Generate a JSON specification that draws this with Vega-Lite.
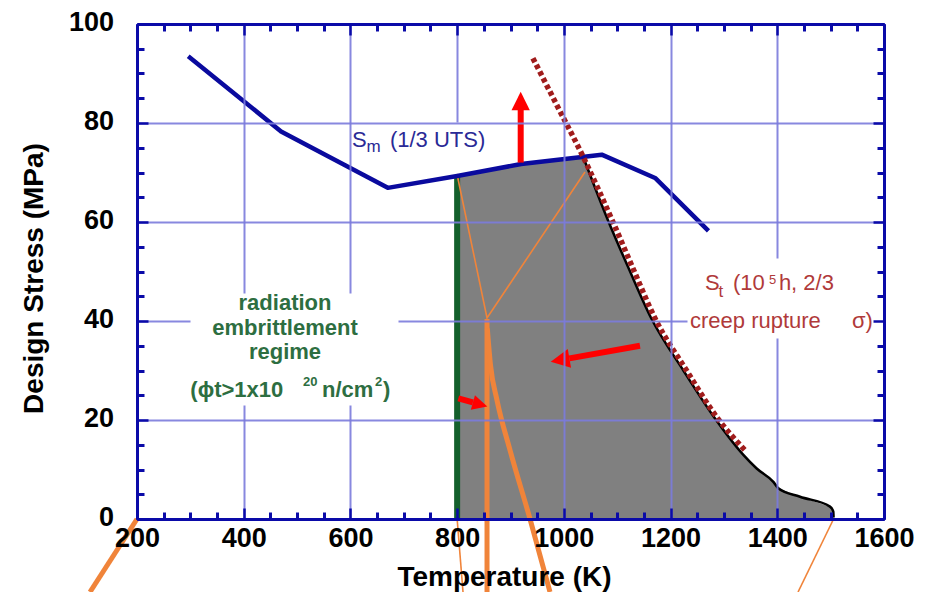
{
  "$schema": "https://vega.github.io/schema/vega-lite/v6.json",
  "width": 747,
  "height": 495,
  "autosize": {"type": "none"},
  "padding": {"left": 137, "top": 24, "right": 44, "bottom": 73},
  "background": "white",
  "config": {"view": {"stroke": null}, "font": "Liberation Sans"},
  "datasets": {
    "sm": [
      {"x": 296, "y": 93.5}, {"x": 470, "y": 78.3}, {"x": 670, "y": 66.9},
      {"x": 800, "y": 69.3}, {"x": 920, "y": 71.7}, {"x": 1071, "y": 73.6},
      {"x": 1171, "y": 68.9}, {"x": 1271, "y": 58.2}
    ],
    "region": [
      {"x": 800, "y": 69.3}, {"x": 920, "y": 71.7}, {"x": 1036.5, "y": 73.1},
      {"x": 1084, "y": 60}, {"x": 1122, "y": 50.5}, {"x": 1164, "y": 40.5},
      {"x": 1224, "y": 30}, {"x": 1282, "y": 20.5}, {"x": 1336, "y": 13.0},
      {"x": 1361.4, "y": 10.2}, {"x": 1392.6, "y": 7.5}, {"x": 1401.9, "y": 6.2},
      {"x": 1442.6, "y": 4.5}, {"x": 1498.8, "y": 2.5}, {"x": 1505, "y": 1.5},
      {"x": 1505.5, "y": 0}
    ],
    "creep": [
      {"x": 1036.5, "y": 73.1}, {"x": 1084, "y": 60}, {"x": 1122, "y": 50.5},
      {"x": 1164, "y": 40.5}, {"x": 1224, "y": 30}, {"x": 1282, "y": 20.5},
      {"x": 1336, "y": 13.0}, {"x": 1361.4, "y": 10.2}, {"x": 1392.6, "y": 7.5},
      {"x": 1401.9, "y": 6.2}, {"x": 1442.6, "y": 4.5}, {"x": 1498.8, "y": 2.5},
      {"x": 1505, "y": 1.5}, {"x": 1505.5, "y": 0.3}
    ],
    "st": [
      {"x": 942, "y": 93.1}, {"x": 985, "y": 84}, {"x": 1036, "y": 73.2},
      {"x": 1092, "y": 60}, {"x": 1130, "y": 50.5}, {"x": 1171, "y": 40.5},
      {"x": 1230, "y": 30}, {"x": 1287, "y": 20.5}, {"x": 1339.5, "y": 13.9}
    ],
    "green": [{"x": 800, "y": 0, "y2": 69.3}],
    "arrows": [
      {"id": "up", "x": 919.1, "y": 72.0, "x2": 919.1, "y2": 83.0},
      {"id": "left", "x": 1142.7, "y": 35.0, "x2": 1010.4, "y2": 32.44},
      {"id": "right", "x": 802.2, "y": 24.38, "x2": 829.5, "y2": 23.54}
    ],
    "heads": [
      {"id": "up", "x": 919.1, "y": 82.6},
      {"id": "left", "x": 1010.4, "y": 32.44},
      {"id": "right", "x": 829.5, "y": 23.54}
    ],
    "orange": [
      {"seg": "margin", "i": 0, "x": 200, "y": 0},
      {"seg": "margin", "i": 1, "x": 111.9, "y": -14.75},
      {"seg": "stem", "i": 0, "x": 856, "y": 40.4},
      {"seg": "stem", "i": 1, "x": 856, "y": -14.75},
      {"seg": "branch", "i": 0, "x": 856.5, "y": 38.5},
      {"seg": "branch", "i": 1, "x": 862.5, "y": 31.1},
      {"seg": "branch", "i": 2, "x": 874.7, "y": 24},
      {"seg": "branch", "i": 3, "x": 899.1, "y": 13.9},
      {"seg": "branch", "i": 4, "x": 936.6, "y": 0},
      {"seg": "branch", "i": 5, "x": 974, "y": -14.75},
      {"seg": "link", "i": 0, "x": 799.7, "y": 69.7},
      {"seg": "link", "i": 1, "x": 856, "y": 40.6},
      {"seg": "link", "i": 2, "x": 1039.6, "y": 70.1},
      {"seg": "foot", "i": 0, "x": 800, "y": 0},
      {"seg": "foot", "i": 1, "x": 811, "y": -14.75},
      {"seg": "tail", "i": 0, "x": 1505.5, "y": 0},
      {"seg": "tail", "i": 1, "x": 1438.9, "y": -14.75}
    ],
    "notes": [
      {"g": "sm", "t": "S", "x": 603, "y": 75.25},
      {"g": "sm_sub", "t": "m", "x": 630, "y": 74.1},
      {"g": "sm", "t": "(1/3 UTS)", "x": 674, "y": 75.25},
      {"g": "rad_c", "t": "radiation", "x": 477.4, "y": 42.22},
      {"g": "rad_c", "t": "embrittlement", "x": 477.4, "y": 37.17},
      {"g": "rad_c", "t": "regime", "x": 477.4, "y": 32.42},
      {"g": "rad", "t": "(ϕt>1x10", "x": 300, "y": 24.65},
      {"g": "rad_sup", "t": "20", "x": 511.1, "y": 26.87},
      {"g": "rad", "t": "n/cm", "x": 546.7, "y": 24.65},
      {"g": "rad_sup", "t": "2", "x": 646, "y": 26.87},
      {"g": "rad", "t": ")", "x": 661, "y": 24.65},
      {"g": "st", "t": "S", "x": 1264.5, "y": 46.26},
      {"g": "st_sub", "t": "t", "x": 1290, "y": 44.9},
      {"g": "st", "t": "(10", "x": 1317, "y": 46.26},
      {"g": "st_sup", "t": "5", "x": 1384.5, "y": 47.4},
      {"g": "st", "t": "h, 2/3", "x": 1403, "y": 46.26},
      {"g": "st", "t": "creep rupture", "x": 1236.4, "y": 38.53},
      {"g": "st", "t": "σ)", "x": 1540, "y": 38.53}
    ]
  },
  "layer": [
    {
      "encoding": {
        "x": {
          "field": "x", "type": "quantitative",
          "scale": {"domain": [200, 1600], "nice": false, "zero": false},
          "axis": {
            "orient": "bottom",
            "values": [200, 400, 600, 800, 1000, 1200, 1400, 1600],
            "format": "d",
            "labelFlush": false, "labelOverlap": false,
            "labelFont": "Liberation Sans", "labelFontWeight": "bold", "labelFontSize": 27,
            "labelColor": "#000000", "labelBaseline": "alphabetic", "labelPadding": 38.7,
            "tickSize": -11, "tickWidth": 2.5, "tickColor": "#0a0aa8",
            "domainColor": "#0a0aa8", "domainWidth": 3,
            "grid": true, "gridColor": "#7b7bdc", "gridWidth": 2,
            "gridOpacity": {"condition": {"test": "datum.value > 200 && datum.value < 1600", "value": 0.9}, "value": 0},
            "gridDash": {"condition": [
              {"test": "datum.value === 400 || datum.value === 600", "value": [269, 112, 300, 100]},
              {"test": "datum.value === 800", "value": [98, 600]},
              {"test": "datum.value === 1400", "value": [234, 80, 300, 100]}
            ], "value": []},
            "zindex": 1,
            "title": "Temperature (K)",
            "titleFont": "Liberation Sans", "titleFontSize": 28, "titleFontWeight": "bold", "titleColor": "#000000",
            "titleX": 367, "titleY": 66, "titleBaseline": "alphabetic", "titleAlign": "center"
          }
        },
        "y": {
          "field": "y", "type": "quantitative",
          "scale": {"domain": [0, 100], "nice": false, "zero": false},
          "axis": {
            "orient": "left",
            "values": [0, 20, 40, 60, 80, 100],
            "labelOverlap": false,
            "labelFont": "Liberation Sans", "labelFontWeight": "bold", "labelFontSize": 27,
            "labelColor": "#000000", "labelBaseline": "alphabetic", "labelOffset": 6, "labelPadding": 34.5,
            "tickSize": -11, "tickWidth": 2.5, "tickColor": "#0a0aa8",
            "domainColor": "#0a0aa8", "domainWidth": 3,
            "grid": true, "gridColor": "#7b7bdc", "gridWidth": 2,
            "gridOpacity": {"condition": {"test": "datum.value > 0 && datum.value < 100", "value": 0.9}, "value": 0},
            "gridDash": {"condition": {"test": "datum.value === 40", "value": [53, 208, 289, 400]}, "value": []},
            "zindex": 1,
            "title": "Design Stress (MPa)",
            "titleFont": "Liberation Sans", "titleFontSize": 28, "titleFontWeight": "bold", "titleColor": "#000000",
            "titleX": -95, "titleY": 254, "titleBaseline": "alphabetic", "titleAlign": "center", "titleAngle": 270
          }
        }
      },
      "layer": [
        {"data": {"name": "region"}, "mark": {"type": "area", "color": "#808080"}},
        {"data": {"name": "creep"}, "mark": {"type": "line", "color": "#000000", "strokeWidth": 2.5, "interpolate": "monotone"}},
        {
          "data": {"name": "green"},
          "mark": {"type": "rule", "color": "#14602c", "strokeWidth": 6},
          "encoding": {"y2": {"field": "y2"}}
        },
        {
          "data": {"name": "orange"},
          "transform": [{"filter": "indexof(['link', 'foot', 'tail'], datum.seg) >= 0"}],
          "mark": {"type": "line", "color": "#f0843a", "strokeWidth": 1.6},
          "encoding": {"detail": {"field": "seg"}, "order": {"field": "i"}}
        },
        {"data": {"name": "sm"}, "mark": {"type": "line", "color": "#0a0a9e", "strokeWidth": 4.5, "strokeJoin": "round"}},
        {"data": {"name": "st"}, "mark": {"type": "line", "color": "#a01c1c", "strokeWidth": 5.5, "strokeDash": [4.5, 3], "strokeCap": "butt", "interpolate": "monotone"}},
        {
          "data": {"name": "orange"},
          "transform": [{"filter": "indexof(['margin', 'stem'], datum.seg) >= 0"}],
          "mark": {"type": "line", "color": "#f0843a", "strokeWidth": 5},
          "encoding": {"detail": {"field": "seg"}, "order": {"field": "i"}}
        },
        {
          "data": {"name": "orange"},
          "transform": [{"filter": "datum.seg === 'branch'"}],
          "mark": {"type": "line", "color": "#f0843a", "strokeWidth": 5, "interpolate": "monotone"},
          "encoding": {"order": {"field": "i"}}
        },
        {
          "data": {"name": "arrows"},
          "mark": {"type": "rule", "color": "#ff0000", "strokeWidth": 6},
          "encoding": {"x2": {"field": "x2"}, "y2": {"field": "y2"}}
        },
        {
          "data": {"name": "heads"},
          "transform": [{"filter": "datum.id === 'up'"}],
          "mark": {"type": "point", "shape": "M0,-1L0.5,0L-0.5,0Z", "filled": true, "color": "#ff0000", "opacity": 1, "size": 1340, "angle": 0}
        },
        {
          "data": {"name": "heads"},
          "transform": [{"filter": "datum.id === 'left'"}],
          "mark": {"type": "point", "shape": "M0,-1L0.5,0L-0.5,0Z", "filled": true, "color": "#ff0000", "opacity": 1, "size": 1444, "angle": 260}
        },
        {
          "data": {"name": "heads"},
          "transform": [{"filter": "datum.id === 'right'"}],
          "mark": {"type": "point", "shape": "M0,-1L0.5,0L-0.5,0Z", "filled": true, "color": "#ff0000", "opacity": 1, "size": 900, "angle": 106}
        },
        {
          "data": {"name": "notes"},
          "transform": [{"filter": "datum.g === 'sm'"}],
          "mark": {"type": "text", "align": "left", "baseline": "alphabetic", "font": "Liberation Sans", "fontSize": 22, "color": "#2a2a96"},
          "encoding": {"text": {"field": "t"}}
        },
        {
          "data": {"name": "notes"},
          "transform": [{"filter": "datum.g === 'sm_sub'"}],
          "mark": {"type": "text", "align": "left", "baseline": "alphabetic", "font": "Liberation Sans", "fontSize": 17, "color": "#2a2a96"},
          "encoding": {"text": {"field": "t"}}
        },
        {
          "data": {"name": "notes"},
          "transform": [{"filter": "datum.g === 'rad_c'"}],
          "mark": {"type": "text", "align": "center", "baseline": "alphabetic", "font": "Liberation Sans", "fontWeight": "bold", "fontSize": 22, "color": "#2d6e41"},
          "encoding": {"text": {"field": "t"}}
        },
        {
          "data": {"name": "notes"},
          "transform": [{"filter": "datum.g === 'rad'"}],
          "mark": {"type": "text", "align": "left", "baseline": "alphabetic", "font": "Liberation Sans", "fontWeight": "bold", "fontSize": 22, "color": "#2d6e41"},
          "encoding": {"text": {"field": "t"}}
        },
        {
          "data": {"name": "notes"},
          "transform": [{"filter": "datum.g === 'rad_sup'"}],
          "mark": {"type": "text", "align": "left", "baseline": "alphabetic", "font": "Liberation Sans", "fontWeight": "bold", "fontSize": 13, "color": "#2d6e41"},
          "encoding": {"text": {"field": "t"}}
        },
        {
          "data": {"name": "notes"},
          "transform": [{"filter": "datum.g === 'st'"}],
          "mark": {"type": "text", "align": "left", "baseline": "alphabetic", "font": "Liberation Sans", "fontSize": 22, "color": "#b03a3a"},
          "encoding": {"text": {"field": "t"}}
        },
        {
          "data": {"name": "notes"},
          "transform": [{"filter": "datum.g === 'st_sub'"}],
          "mark": {"type": "text", "align": "left", "baseline": "alphabetic", "font": "Liberation Sans", "fontSize": 17, "color": "#b03a3a"},
          "encoding": {"text": {"field": "t"}}
        },
        {
          "data": {"name": "notes"},
          "transform": [{"filter": "datum.g === 'st_sup'"}],
          "mark": {"type": "text", "align": "left", "baseline": "alphabetic", "font": "Liberation Sans", "fontSize": 13, "color": "#b03a3a"},
          "encoding": {"text": {"field": "t"}}
        }
      ]
    },
    {
      "data": {"name": "green"},
      "mark": {"type": "point", "opacity": 0},
      "encoding": {
        "x": {"field": "x", "type": "quantitative", "axis": {
          "orient": "top", "values": [200, 400, 600, 800, 1000, 1200, 1400, 1600],
          "labels": false, "grid": false, "title": null,
          "tickSize": -11, "tickWidth": 2.5, "tickColor": "#0a0aa8",
          "domainColor": "#0a0aa8", "domainWidth": 3, "zindex": 1
        }},
        "y": {"field": "y", "type": "quantitative", "axis": {
          "orient": "right", "values": [0, 20, 40, 60, 80, 100],
          "labels": false, "grid": false, "title": null,
          "tickSize": -11, "tickWidth": 2.5, "tickColor": "#0a0aa8",
          "domainColor": "#0a0aa8", "domainWidth": 3, "zindex": 1
        }}
      }
    },
    {
      "data": {"name": "green"},
      "mark": {"type": "point", "opacity": 0},
      "encoding": {
        "x": {"field": "x", "type": "quantitative", "axis": {
          "orient": "bottom",
          "values": [250, 300, 350, 450, 500, 550, 650, 700, 750, 850, 900, 950, 1050, 1100, 1150, 1250, 1300, 1350, 1450, 1500, 1550],
          "labels": false, "grid": false, "title": null,
          "tickSize": -7, "tickWidth": 3, "tickColor": "#0a0aa8",
          "domainColor": "#0a0aa8", "domainWidth": 3, "zindex": 1
        }},
        "y": {"field": "y", "type": "quantitative", "axis": {
          "orient": "left",
          "values": [5, 10, 15, 25, 30, 35, 45, 50, 55, 65, 70, 75, 85, 90, 95],
          "labels": false, "grid": false, "title": null,
          "tickSize": -7, "tickWidth": 3, "tickColor": "#0a0aa8",
          "domainColor": "#0a0aa8", "domainWidth": 3, "zindex": 1
        }}
      }
    },
    {
      "data": {"name": "green"},
      "mark": {"type": "point", "opacity": 0},
      "encoding": {
        "x": {"field": "x", "type": "quantitative", "axis": {
          "orient": "top",
          "values": [250, 300, 350, 450, 500, 550, 650, 700, 750, 850, 900, 950, 1050, 1100, 1150, 1250, 1300, 1350, 1450, 1500, 1550],
          "labels": false, "grid": false, "title": null,
          "tickSize": -7, "tickWidth": 3, "tickColor": "#0a0aa8",
          "domainColor": "#0a0aa8", "domainWidth": 3, "zindex": 1
        }},
        "y": {"field": "y", "type": "quantitative", "axis": {
          "orient": "right",
          "values": [5, 10, 15, 25, 30, 35, 45, 50, 55, 65, 70, 75, 85, 90, 95],
          "labels": false, "grid": false, "title": null,
          "tickSize": -7, "tickWidth": 3, "tickColor": "#0a0aa8",
          "domainColor": "#0a0aa8", "domainWidth": 3, "zindex": 1
        }}
      }
    }
  ],
  "resolve": {"axis": {"x": "independent", "y": "independent"}}
}
